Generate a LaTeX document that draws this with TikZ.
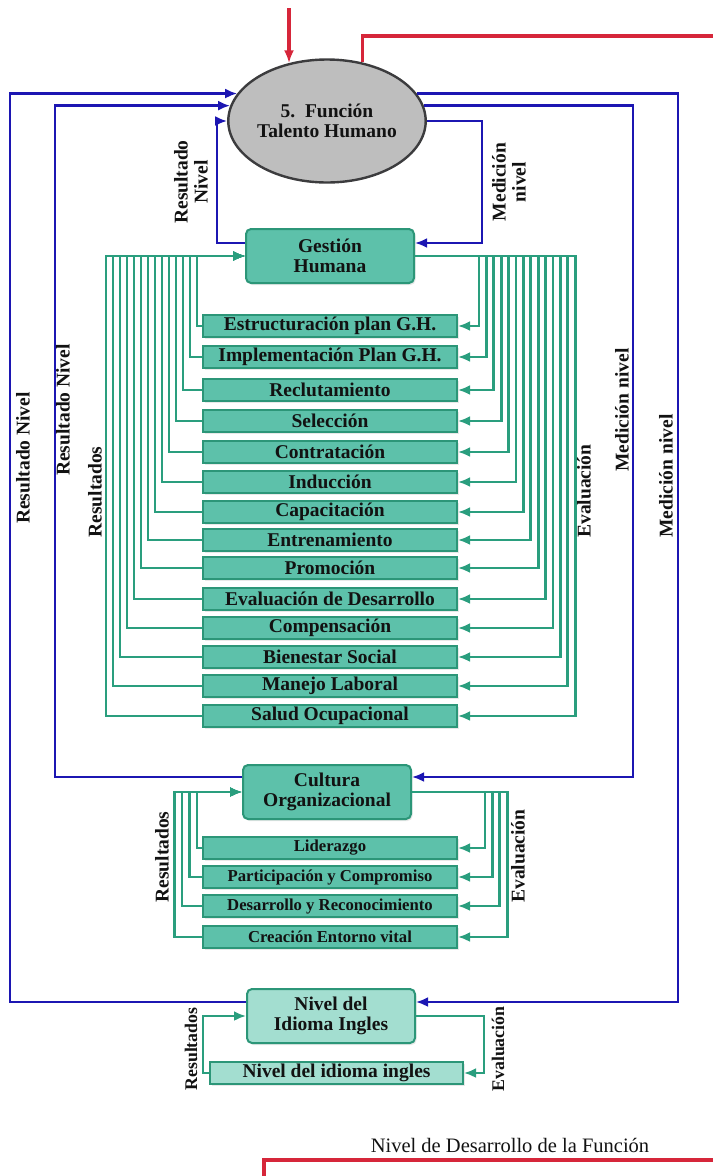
\documentclass[tikz,border=0pt]{standalone}
\usepackage{fontspec}
\setmainfont{Liberation Serif}
\usetikzlibrary{arrows.meta,calc,shapes.geometric,shadows}

\definecolor{bl}{RGB}{28,22,178}
\definecolor{rd}{RGB}{214,38,58}
\definecolor{gl}{RGB}{42,158,126}
\definecolor{gf}{RGB}{93,193,170}
\definecolor{gb}{RGB}{44,150,120}
\definecolor{lf}{RGB}{163,222,208}
\definecolor{ef}{RGB}{190,190,190}
\definecolor{eb}{RGB}{60,60,62}
\definecolor{tx}{RGB}{18,18,18}

\begin{document}
\begin{tikzpicture}[x=1pt,y=-1pt,
  txt/.style={text=tx, font=\fontsize{19.5}{20}\selectfont\bfseries},
  box/.style={txt, draw=gb, line width=2pt, fill=gf, align=center, inner sep=0pt,
    drop shadow={opacity=0.18, shadow xshift=1.5pt, shadow yshift=-2pt}},
  mainbox/.style={box, rounded corners=5pt, minimum width=168pt, minimum height=54pt},
  subbox/.style={box, minimum width=254pt, minimum height=22pt},
  smallbox/.style={subbox, font=\fontsize{16.7}{18}\selectfont\bfseries},
  lab/.style={txt, rotate=90, align=center, inner sep=0pt},
  gline/.style={draw=gl, line width=2.7pt},
  garrow/.style={gline, -{Latex[length=12pt,width=10pt]}},
  barrow/.style={draw=bl, line width=2.7pt, -{Latex[length=12pt,width=10pt]}},
  rline/.style={draw=rd, line width=3.2pt},
  rarrow/.style={rline, -{Latex[length=13pt,width=10pt]}}
]
\useasboundingbox (0,0) rectangle (713,1176);

% central function
\node[ellipse, draw=eb, line width=2.4pt, fill=ef, minimum width=188pt, minimum height=123pt,
      txt, align=center, inner sep=0pt] (ell) at (327,121) {5.~~Función\\Talento Humano};

% main areas
\node[mainbox] (gh) at (330,256) {Gestión\\Humana};
\node[mainbox] (co) at (327,792) {Cultura\\Organizacional};
\node[mainbox, fill=lf] (ni) at (331,1016) {Nivel del\\Idioma Ingles};

% human management processes
\foreach \t/\yy [count=\i from 0] in {
  Estructuración plan G.H./326, Implementación Plan G.H./357, Reclutamiento/390,
  Selección/421, Contratación/452, Inducción/482, Capacitación/512,
  Entrenamiento/540, Promoción/568, Evaluación de Desarrollo/599,
  Compensación/628, Bienestar Social/657, Manejo Laboral/686, Salud Ocupacional/716}
  \node[subbox] (s\i) at (330,\yy) {\t};

% organisational culture items
\foreach \t/\yy [count=\i from 0] in {
  Liderazgo/848, Participación y Compromiso/877,
  Desarrollo y Reconocimiento/906, Creación Entorno vital/937}
  \node[smallbox] (c\i) at (330,\yy) {\t};

% english level item
\node[subbox, fill=lf, minimum width=253pt] (n0) at (336.5,1073) {Nivel del idioma ingles};

% feedback buses of human management
\foreach \i in {0,...,13}{
  \coordinate (L\i) at ({197-7*\i},0);
  \coordinate (R\i) at ({479+7.4*\i},0);
  \draw[garrow] (s\i.west) -| (L\i |- gh.west) -- (gh.west);
  \draw[garrow] (gh.east) -| (R\i |- s\i.east) -- (s\i.east);
}

% feedback buses of culture
\foreach \i in {0,...,3}{
  \coordinate (CL\i) at ({197-7.5*\i},0);
  \coordinate (CR\i) at ({485+7.4*\i},0);
  \draw[garrow] (c\i.west) -| (CL\i |- co.west) -- (co.west);
  \draw[garrow] (co.east) -| (CR\i |- c\i.east) -- (c\i.east);
}

% feedback of english level
\coordinate (NL) at (203,0);
\coordinate (NR) at (484,0);
\draw[garrow] (n0.west) -| (NL |- ni.west) -- (ni.west);
\draw[garrow] (ni.east) -| (NR |- n0.east) -- (n0.east);

% level loops between the function and its areas
\coordinate (xA) at (217,0);
\coordinate (xB) at (482,0);
\coordinate (xC) at (55,0);
\coordinate (xD) at (633,0);
\coordinate (xE) at (10,0);
\coordinate (xF) at (678,0);
\coordinate (ghL) at ($(gh.west)+(0,-13)$);
\coordinate (ghR) at ($(gh.east)+(0,-13)$);
\coordinate (coL) at ($(co.west)+(0,-15)$);
\coordinate (coR) at ($(co.east)+(0,-15)$);
\coordinate (niL) at ($(ni.west)+(0,-14)$);
\coordinate (niR) at ($(ni.east)+(0,-14)$);

\draw[barrow] (ghL) -| (xA |- ell.west) -- (ell.west);
\draw[barrow] (ell.east) -| (xB |- ghR) -- (ghR);
\draw[barrow] (coL) -| (xC |- ell.171) -- (ell.171);
\draw[barrow] (ell.9) -| (xD |- coR) -- (coR);
\draw[barrow] (niL) -| (xE |- ell.163) -- (ell.163);
\draw[barrow] (ell.17) -| (xF |- niR) -- (niR);

% development level line
\coordinate (rtop) at (289,8);
\coordinate (redR) at (713,36);
\draw[rarrow] (rtop) -- (rtop |- ell.124);
\draw[rline] (ell.59) |- (redR);
\coordinate (rb0) at (264,1176);
\coordinate (rb1) at (713,1160);
\draw[rline] (rb0) |- (rb1);

% connector labels
\node[lab] (lr3) at (191,182) {Resultado\\Nivel};
\node[lab] (lm3) at (509,182) {Medición\\nivel};
\node[lab] (lr2) at (63,410) {Resultado Nivel};
\node[lab] (lm2) at (622,410) {Medición nivel};
\node[lab] (lr1) at (23,458) {Resultado Nivel};
\node[lab] (lm1) at (666,476) {Medición nivel};
\node[lab] (res1) at (95,492) {Resultados};
\node[lab] (ev1) at (584,491) {Evaluación};
\node[lab] (res2) at (162,857) {Resultados};
\node[lab] (ev2) at (518,856) {Evaluación};
\node[lab, font=\fontsize{17.8}{18}\selectfont\bfseries] (res3) at (191,1049) {Resultados};
\node[lab, font=\fontsize{17.8}{18}\selectfont\bfseries] (ev3) at (498,1049) {Evaluación};
\node[text=tx, font=\fontsize{20.5}{22}\selectfont, inner sep=0pt] (title) at (510,1145) {Nivel de Desarrollo de la Función};
\end{tikzpicture}
\end{document}
